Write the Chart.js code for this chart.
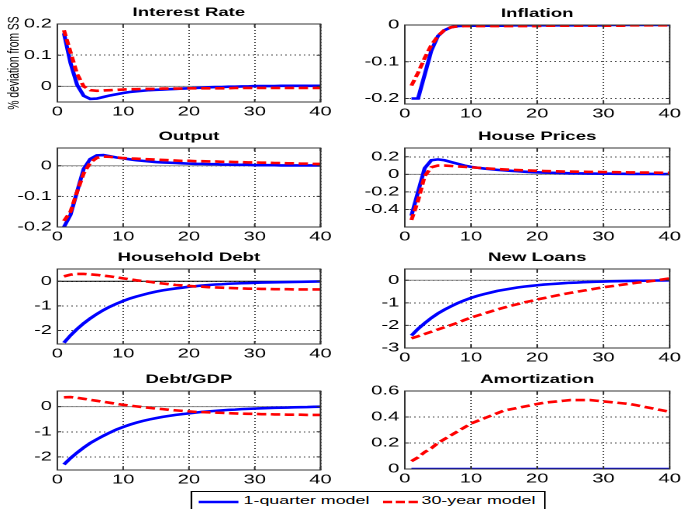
<!DOCTYPE html>
<html>
<head>
<meta charset="utf-8">
<script src="https://cdn.jsdelivr.net/npm/chart.js@4.4.0/dist/chart.umd.min.js"></script>
<style>
html, body { margin: 0; padding: 0; background: #fff; width: 681px; height: 509px; overflow: hidden; }
#fig { position: absolute; left: 0; top: 0; width: 440px; height: 509px; transform: scaleX(1.55); transform-origin: 0 0; }
.panel { position: absolute; }
.panel canvas { display: block; }
#legend { position: absolute; border: 1px solid #000; background: #fff; font: 11.5px Arial, "Liberation Sans", sans-serif; color: #000; }
#legend span, #legend svg { position: absolute; }
</style>
</head>
<body>
<div id="fig"></div>
<script>
// quarters after the shock
var periods = [1,2,3,4,5,6,7,8,9,10,11,12,13,14,15,16,17,18,19,20,21,22,23,24,25,26,27,28,29,30,31,32,33,34,35,36,37,38,39,40];
var xTicks = [0, 10, 20, 30, 40];
var seriesNames = ['1-quarter model', '30-year model'];

// Interest Rate
var rateQuarter = [0.17,0.075,0.005,-0.03,-0.04,-0.039,-0.034,-0.029,-0.025,-0.021,-0.018,-0.016,-0.014,-0.012,-0.011,-0.01,-0.009,-0.008,-0.007,-0.006,-0.005,-0.004,-0.003,-0.002,-0.002,-0.001,-0.001,0,0,0.001,0.001,0.001,0.001,0.002,0.002,0.002,0.002,0.002,0.002,0.002];
var rateYear = [0.18,0.11,0.04,0,-0.012,-0.014,-0.013,-0.012,-0.011,-0.01,-0.009,-0.009,-0.008,-0.008,-0.008,-0.007,-0.007,-0.007,-0.007,-0.006,-0.006,-0.006,-0.006,-0.006,-0.006,-0.006,-0.005,-0.005,-0.005,-0.005,-0.005,-0.005,-0.005,-0.005,-0.005,-0.005,-0.005,-0.005,-0.005,-0.005];
var rateTicks = [0, 0.1, 0.2];

// Inflation
var inflQuarter = [-0.2,-0.2,-0.135,-0.07,-0.03,-0.014,-0.006,-0.003,-0.002,-0.002,-0.002,-0.002,-0.002,-0.002,-0.002,-0.001,-0.001,-0.001,-0.001,-0.001,-0.001,-0.001,-0.001,-0.001,-0.001,-0.001,-0.001,-0.001,-0.001,-0.001,0,0,0,0,0,0,0,0,0,0];
var inflYear = [-0.165,-0.13,-0.09,-0.055,-0.03,-0.013,-0.006,-0.004,-0.003,-0.003,-0.003,-0.003,-0.003,-0.003,-0.003,-0.003,-0.003,-0.003,-0.003,-0.003,-0.002,-0.002,-0.002,-0.002,-0.002,-0.002,-0.002,-0.002,-0.002,-0.002,-0.002,-0.002,-0.002,-0.001,-0.001,-0.001,-0.001,-0.001,-0.001,-0.001];
var inflTicks = [-0.2, -0.1, 0];

// Output
var outQuarter = [-0.2,-0.16,-0.085,-0.01,0.022,0.034,0.035,0.031,0.027,0.024,0.021,0.018,0.016,0.014,0.012,0.011,0.01,0.009,0.008,0.007,0.006,0.006,0.005,0.005,0.004,0.004,0.003,0.003,0.003,0.002,0.002,0.002,0.002,0.001,0.001,0.001,0.001,0.001,0.001,0.001];
var outYear = [-0.18,-0.15,-0.085,-0.025,0.01,0.026,0.03,0.029,0.027,0.025,0.024,0.023,0.022,0.021,0.02,0.019,0.018,0.017,0.016,0.016,0.015,0.015,0.014,0.014,0.013,0.013,0.012,0.012,0.011,0.011,0.01,0.01,0.009,0.009,0.008,0.008,0.007,0.007,0.006,0.006];
var outTicks = [-0.2, -0.1, 0];

// House Prices
var housQuarter = [-0.47,-0.2,0.07,0.16,0.17,0.16,0.14,0.12,0.1,0.085,0.075,0.066,0.058,0.051,0.045,0.04,0.035,0.03,0.026,0.023,0.02,0.018,0.016,0.014,0.012,0.011,0.01,0.009,0.008,0.007,0.007,0.006,0.006,0.005,0.005,0.004,0.004,0.004,0.003,0.003];
var housYear = [-0.52,-0.3,-0.02,0.08,0.1,0.1,0.095,0.09,0.085,0.08,0.075,0.07,0.065,0.06,0.056,0.052,0.049,0.046,0.043,0.04,0.038,0.036,0.034,0.032,0.031,0.03,0.029,0.028,0.027,0.026,0.025,0.024,0.023,0.022,0.021,0.02,0.02,0.019,0.018,0.018];
var housTicks = [-0.4, -0.2, 0, 0.2];

// Household Debt
var debtQuarter = [-2.5,-2.2,-1.94,-1.71,-1.51,-1.33,-1.17,-1.03,-0.91,-0.8,-0.7,-0.62,-0.55,-0.48,-0.42,-0.37,-0.33,-0.29,-0.26,-0.22,-0.2,-0.17,-0.15,-0.13,-0.12,-0.1,-0.09,-0.08,-0.07,-0.06,-0.05,-0.045,-0.04,-0.035,-0.03,-0.025,-0.02,-0.015,-0.01,-0.005];
var debtYear = [0.2,0.27,0.3,0.3,0.28,0.26,0.23,0.2,0.16,0.12,0.08,0.04,0.01,-0.02,-0.06,-0.09,-0.12,-0.15,-0.17,-0.19,-0.21,-0.22,-0.24,-0.25,-0.26,-0.27,-0.28,-0.29,-0.3,-0.3,-0.31,-0.31,-0.32,-0.32,-0.32,-0.33,-0.33,-0.33,-0.33,-0.33];
var debtTicks = [-2, -1, 0];

// New Loans
var loansQuarter = [-2.45,-2.15,-1.9,-1.67,-1.47,-1.3,-1.15,-1.01,-0.89,-0.78,-0.69,-0.61,-0.54,-0.47,-0.42,-0.37,-0.32,-0.28,-0.25,-0.22,-0.19,-0.17,-0.15,-0.13,-0.11,-0.1,-0.085,-0.075,-0.065,-0.055,-0.045,-0.04,-0.035,-0.03,-0.025,-0.02,-0.015,-0.01,-0.005,0];
var loansYear = [-2.57,-2.48,-2.38,-2.28,-2.18,-2.08,-1.98,-1.88,-1.76,-1.65,-1.56,-1.47,-1.38,-1.29,-1.21,-1.13,-1.06,-0.98,-0.92,-0.85,-0.79,-0.73,-0.67,-0.61,-0.56,-0.51,-0.46,-0.41,-0.36,-0.31,-0.27,-0.23,-0.19,-0.15,-0.11,-0.08,-0.04,-0.01,0.04,0.08];
var loansTicks = [-3, -2, -1, 0];

// Debt/GDP
var gdpQuarter = [-2.3,-2.05,-1.83,-1.63,-1.45,-1.3,-1.16,-1.03,-0.91,-0.81,-0.72,-0.64,-0.57,-0.51,-0.46,-0.41,-0.37,-0.33,-0.3,-0.27,-0.24,-0.21,-0.19,-0.17,-0.15,-0.13,-0.12,-0.1,-0.09,-0.08,-0.07,-0.06,-0.05,-0.045,-0.04,-0.03,-0.025,-0.02,-0.01,-0.005];
var gdpYear = [0.37,0.38,0.35,0.31,0.27,0.23,0.19,0.15,0.11,0.07,0.04,0.01,-0.02,-0.05,-0.08,-0.1,-0.13,-0.15,-0.17,-0.19,-0.21,-0.22,-0.23,-0.24,-0.25,-0.26,-0.27,-0.28,-0.285,-0.29,-0.3,-0.3,-0.31,-0.31,-0.32,-0.32,-0.32,-0.33,-0.33,-0.33];
var gdpTicks = [-2, -1, 0];

// Amortization
var amortQuarter = [0,0,0,0,0,0,0,0,0,0,0,0,0,0,0,0,0,0,0,0,0,0,0,0,0,0,0,0,0,0,0,0,0,0,0,0,0,0,0,0];
var amortYear = [0.06,0.09,0.13,0.16,0.2,0.23,0.26,0.29,0.32,0.35,0.37,0.39,0.41,0.43,0.45,0.46,0.47,0.48,0.49,0.5,0.51,0.515,0.52,0.525,0.53,0.53,0.53,0.53,0.525,0.52,0.515,0.51,0.505,0.5,0.49,0.48,0.47,0.46,0.45,0.44];
var amortTicks = [0, 0.2, 0.4, 0.6];

var S = 1.55;      // horizontal stretch of the whole figure
var Y_W = 36, TOP_H = 22, X_H = 18, R_PAD = 9;
var FONT = 'Arial, "Liberation Sans", Helvetica, sans-serif';

var panels = [
  { title: 'Interest Rate', q: rateQuarter, y: rateYear, min: -0.05, max: 0.2, ticks: rateTicks, box: [57.5, 24, 321, 102], zero: '#888', ylabel: '% deviation from SS' },
  { title: 'Inflation', q: inflQuarter, y: inflYear, min: -0.215, max: 0, ticks: inflTicks, box: [405, 25, 669, 104], zero: '#888' },
  { title: 'Output', q: outQuarter, y: outYear, min: -0.2, max: 0.058, ticks: outTicks, box: [57.5, 148, 321, 227], zero: '#888' },
  { title: 'House Prices', q: housQuarter, y: housYear, min: -0.6, max: 0.3, ticks: housTicks, box: [405, 148, 669, 227], zero: '#888' },
  { title: 'Household Debt', q: debtQuarter, y: debtYear, min: -2.55, max: 0.5, ticks: debtTicks, box: [57.5, 269, 321, 344], zero: '#000' },
  { title: 'New Loans', q: loansQuarter, y: loansYear, min: -3, max: 0.5, ticks: loansTicks, box: [405, 269, 669, 348], zero: '#888' },
  { title: 'Debt/GDP', q: gdpQuarter, y: gdpYear, min: -2.52, max: 0.62, ticks: gdpTicks, box: [57.5, 391, 321, 470], zero: '#888' },
  { title: 'Amortization', q: amortQuarter, y: amortYear, min: 0, max: 0.6, ticks: amortTicks, box: [405, 391, 669, 469], zero: '#888' }
];

// box, inner ticks, zero line and title, MATLAB style
var framePlugin = {
  id: 'frame',
  beforeDatasetsDraw: function(chart, args, opts) {
    var a = chart.chartArea, ctx = chart.ctx;
    var y0 = chart.scales.y.getPixelForValue(0);
    if (y0 > a.top && y0 < a.bottom) {
      ctx.save();
      ctx.strokeStyle = opts.zero;
      ctx.lineWidth = 1;
      ctx.beginPath();
      ctx.moveTo(a.left, y0);
      ctx.lineTo(a.right, y0);
      ctx.stroke();
      ctx.restore();
    }
  },
  afterDatasetsDraw: function(chart, args, opts) {
    var a = chart.chartArea, ctx = chart.ctx;
    ctx.save();
    ctx.strokeStyle = '#333';
    ctx.lineWidth = 1;
    ctx.strokeRect(a.left, a.top, a.right - a.left, a.bottom - a.top);
    ctx.beginPath();
    chart.scales.x.ticks.forEach(function(t) {
      var px = chart.scales.x.getPixelForValue(t.value);
      ctx.moveTo(px, a.bottom); ctx.lineTo(px, a.bottom - 3);
      ctx.moveTo(px, a.top); ctx.lineTo(px, a.top + 3);
    });
    chart.scales.y.ticks.forEach(function(t) {
      var py = chart.scales.y.getPixelForValue(t.value);
      ctx.moveTo(a.left, py); ctx.lineTo(a.left + 2.5, py);
      ctx.moveTo(a.right, py); ctx.lineTo(a.right - 2.5, py);
    });
    ctx.stroke();
    ctx.fillStyle = '#000';
    ctx.font = 'bold 12px ' + FONT;
    ctx.textAlign = 'center';
    ctx.textBaseline = 'alphabetic';
    ctx.fillText(opts.title, (a.left + a.right) / 2, a.top - 8);
    ctx.restore();
  }
};

var fig = document.getElementById('fig');

panels.forEach(function(p) {
  var b = p.box;
  var div = document.createElement('div');
  div.className = 'panel';
  div.style.left = (b[0] / S - Y_W) + 'px';
  div.style.top = (b[1] - TOP_H) + 'px';
  div.style.width = ((b[2] - b[0]) / S + Y_W + R_PAD) + 'px';
  div.style.height = (b[3] - b[1] + TOP_H + X_H) + 'px';
  var canvas = document.createElement('canvas');
  div.appendChild(canvas);
  fig.appendChild(div);

  var quarterPts = [], yearPts = [];
  for (var i = 0; i < periods.length; i++) {
    quarterPts.push({ x: periods[i], y: p.q[i] });
    yearPts.push({ x: periods[i], y: p.y[i] });
  }

  new Chart(canvas, {
    type: 'line',
    data: {
      datasets: [
        { label: seriesNames[0], data: quarterPts, borderColor: '#0000ff', borderWidth: 2.6, pointRadius: 0, tension: 0, order: 1 },
        { label: seriesNames[1], data: yearPts, borderColor: '#ff0000', borderWidth: 2.6, borderDash: [6, 3], pointRadius: 0, tension: 0, order: 0 }
      ]
    },
    options: {
      responsive: true,
      maintainAspectRatio: false,
      animation: false,
      devicePixelRatio: 2,
      events: [],
      layout: { padding: { top: TOP_H, right: R_PAD, left: 0, bottom: 0 }, autoPadding: false },
      plugins: {
        legend: { display: false },
        tooltip: { enabled: false },
        frame: { title: p.title, zero: p.zero }
      },
      scales: {
        x: {
          type: 'linear', min: 0, max: 40,
          afterBuildTicks: function(s) { s.ticks = xTicks.map(function(v) { return { value: v }; }); },
          afterFit: function(s) { s.height = X_H; },
          grid: { color: 'rgba(0,0,0,0.7)', drawTicks: false },
          border: { display: false, dash: [1, 2] },
          ticks: { color: '#000', font: { family: FONT, size: 13 }, padding: 2, maxRotation: 0, autoSkip: false,
                   callback: function(v) { return String(v); } }
        },
        y: {
          type: 'linear', min: p.min, max: p.max,
          afterBuildTicks: function(s) { s.ticks = p.ticks.map(function(v) { return { value: v }; }); },
          afterFit: function(s) { s.width = Y_W; },
          grid: { color: 'rgba(0,0,0,0.7)', drawTicks: false },
          border: { display: false, dash: [1, 2] },
          title: { display: !!p.ylabel, text: p.ylabel || '', color: '#000', font: { family: FONT, size: 10.3 }, padding: { top: 2, bottom: 0 } },
          ticks: { color: '#000', font: { family: FONT, size: 13 }, padding: 3.5, autoSkip: false,
                   callback: function(v) { return String(v); } }
        }
      }
    },
    plugins: [framePlugin]
  });
});

// legend under the panels
var lg = document.createElement('div');
lg.id = 'legend';
lg.style.left = (190 / S) + 'px';
lg.style.top = '491px';
lg.style.width = (353 / S) + 'px';
lg.style.height = '22px';
lg.innerHTML =
  '<svg width="26" height="6" style="left:' + (7 / S) + 'px;top:7px"><line x1="0" y1="3" x2="26" y2="3" stroke="#0000ff" stroke-width="2.5"/></svg>' +
  '<span style="left:' + (52 / S) + 'px;top:2px">' + seriesNames[0] + '</span>' +
  '<svg width="23" height="6" style="left:' + (191 / S) + 'px;top:7px"><line x1="0" y1="3" x2="23" y2="3" stroke="#ff0000" stroke-width="2.5" stroke-dasharray="6 2.3"/></svg>' +
  '<span style="left:' + (230 / S) + 'px;top:2px">' + seriesNames[1] + '</span>';
fig.appendChild(lg);
</script>
</body>
</html>
